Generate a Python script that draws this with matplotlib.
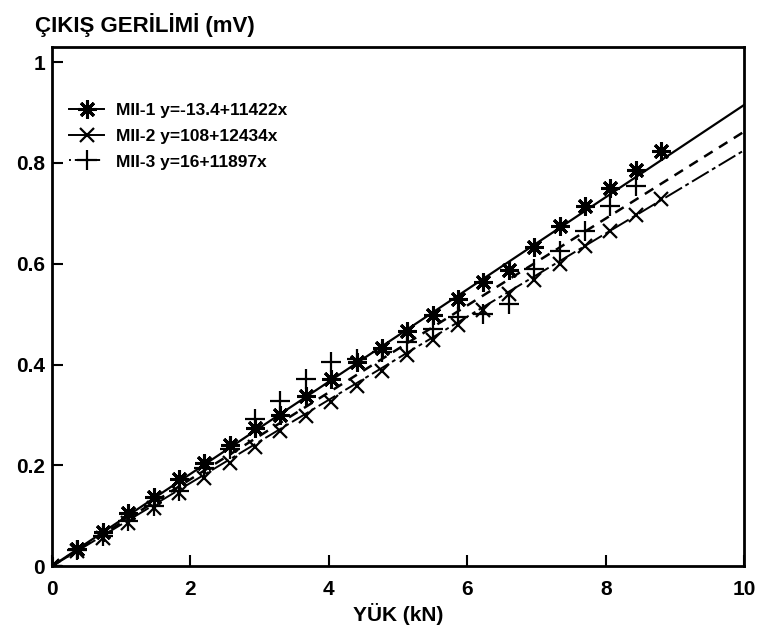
import matplotlib
matplotlib.use('Agg')
import matplotlib.pyplot as plt
from matplotlib.lines import Line2D

plt.rcParams['font.family'] = ['Liberation Sans', 'DejaVu Sans']
plt.rcParams['font.weight'] = 'bold'

# load steps (kN)
load = [0, 0.367, 0.733, 1.1, 1.467, 1.833, 2.2, 2.567, 2.933, 3.3, 3.667, 4.033,
        4.4, 4.767, 5.133, 5.5, 5.867, 6.233, 6.6, 6.967, 7.333, 7.7, 8.067, 8.433, 8.8]

# output voltage (mV)
mii1 = [0, 0.034, 0.068, 0.105, 0.137, 0.172, 0.205, 0.24, 0.275, 0.30, 0.337, 0.372,
        0.405, 0.432, 0.467, 0.498, 0.529, 0.564, 0.588, 0.633, 0.675, 0.715, 0.751, 0.786, 0.824]
mii2 = [0, 0.03, 0.055, 0.085, 0.115, 0.145, 0.175, 0.205, 0.237, 0.268, 0.297, 0.325,
        0.357, 0.388, 0.418, 0.448, 0.478, 0.508, 0.54, 0.568, 0.60, 0.635, 0.665, 0.697, 0.728]
mii3 = [0, 0.033, 0.06, 0.09, 0.12, 0.15, 0.195, 0.232, 0.292, 0.328, 0.372, 0.405,
        0.41, 0.425, 0.445, 0.47, 0.495, 0.50, 0.52, 0.59, 0.625, 0.665, 0.715, 0.755]

# fitted lines, end values read at 0 and 10 kN
fit_x = [0, 10]
fit1 = [0, 0.915]
fit2 = [0, 0.825]
fit3 = [0, 0.862]

labels = ['MII-1 y=-13.4+11422x', 'MII-2 y=108+12434x', 'MII-3 y=16+11897x']

fig = plt.figure(figsize=(7.59, 6.34), dpi=100)
ax = fig.add_axes([0.0685, 0.107, 0.912, 0.819])

ax.plot(fit_x, fit1, color='black', lw=1.6, ls='-')
ax.plot(fit_x, fit2, color='black', lw=1.4, ls=(0, (10, 2, 2, 2)))
ax.plot(fit_x, fit3, color='black', lw=1.8, ls=(0, (4, 3)))

ax.plot(load, mii1, ls='none', marker=(8, 2, 0), ms=13, mew=2.2, color='black')
ax.plot(load, mii2, ls='none', marker='x', ms=10, mew=1.6, color='black')
ax.plot(load[:len(mii3)], mii3, ls='none', marker='+', ms=14, mew=1.6, color='black')

handles = [
    Line2D([], [], color='black', lw=1.4, ls='-', marker=(8, 2, 0), ms=13, mew=2.2),
    Line2D([], [], color='black', lw=1.4, ls='-', marker='x', ms=10, mew=1.6),
    Line2D([], [], color='black', lw=1.4, ls=(0, (1, 2, 4, 2)), marker='+', ms=14, mew=1.6),
]
ax.legend(handles, labels, loc='upper left', bbox_to_anchor=(0.0, 0.925), frameon=False,
          fontsize=12.5, handlelength=2.0, handletextpad=0.7, labelspacing=0.6,
          borderaxespad=0.6)

ax.set_xlim(0, 10)
ax.set_ylim(0, 1.03)
ax.set_xticks([0, 2, 4, 6, 8, 10])
ax.set_xticklabels(['0', '2', '4', '6', '8', '10'])
ax.set_yticks([0, 0.2, 0.4, 0.6, 0.8, 1])
ax.set_yticklabels(['0', '0.2', '0.4', '0.6', '0.8', '1'])
ax.tick_params(direction='in', length=8, width=1.5, labelsize=15)
ax.tick_params(axis='x', pad=10)
ax.tick_params(axis='y', pad=5)
for s in ax.spines.values():
    s.set_linewidth(2)

ax.set_xlabel('YÜK (kN)', fontsize=15, fontweight='bold', labelpad=3)
fig.text(0.046, 0.96, 'ÇIKIŞ GERİLİMİ (mV)', fontsize=16, fontweight='bold', ha='left', va='center')

fig.savefig('out.png', dpi=100)
